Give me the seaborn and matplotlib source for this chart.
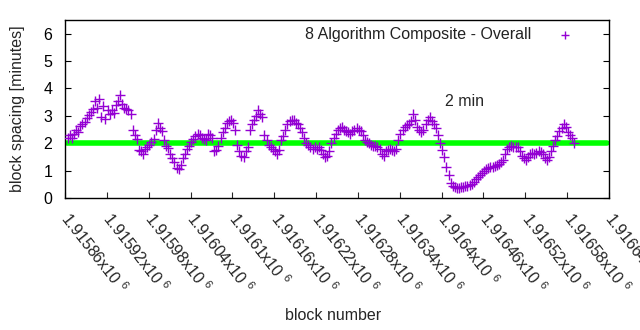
import numpy as np
import pandas as pd
import seaborn as sns
import matplotlib
matplotlib.use("Agg")
import matplotlib.pyplot as plt

# ---- data ----
block_start = 1915864
block_step = 3
spacing_minutes = [
    2.2, 2.3, 2.18, 2.35, 2.5, 2.42, 2.62, 2.7, 2.78, 2.92,
    3.02, 3.15, 3.25, 3.55, 3.3, 3.62, 2.95, 3.35, 2.9, 3.22,
    3.05, 3.2, 3.12, 3.4, 3.55, 3.75, 3.45, 3.3, 3.25, 3.2,
    3.05, 2.5, 2.3, 2.15, 1.75, 1.72, 1.62, 1.78, 1.85, 1.92,
    2.05, 2.15, 2.5, 2.75, 2.55, 2.45, 2.1, 1.9, 1.82, 1.6,
    1.45, 1.3, 1.1, 1.05, 1.2, 1.45, 1.6, 1.78, 1.9, 2.05,
    2.15, 2.25, 2.35, 2.3, 2.2, 2.15, 2.1, 2.35, 2.3, 2.2,
    1.7, 1.75, 1.9, 2.2, 2.4, 2.55, 2.75, 2.8, 2.85, 2.75,
    2.5, 1.95, 1.7, 1.55, 1.5, 1.7, 1.85, 2.5, 2.7, 2.85,
    3.0, 3.2, 3.05, 2.95, 2.3, 2.1, 1.95, 1.85, 1.8, 1.7,
    1.6, 1.75, 2.1, 2.25, 2.5, 2.7, 2.8, 2.85, 2.85, 2.75,
    2.7, 2.55, 2.4, 2.2, 2.0, 1.92, 1.85, 1.8, 1.85, 1.8,
    1.85, 1.75, 1.6, 1.5, 1.55, 1.7, 2.0, 2.2, 2.35, 2.5,
    2.55, 2.6, 2.5, 2.45, 2.4, 2.35, 2.45, 2.5, 2.55, 2.5,
    2.45, 2.3, 2.1, 2.05, 2.0, 1.95, 1.9, 1.9, 1.85, 1.8,
    1.6, 1.55, 1.7, 1.75, 1.8, 1.75, 1.7, 1.8, 2.1, 2.35,
    2.5, 2.6, 2.65, 2.7, 2.8, 3.05, 2.85, 2.6, 2.5, 2.4,
    2.5, 2.7, 2.85, 2.95, 2.8, 2.7, 2.55, 2.3, 2.0, 1.75,
    1.5, 1.15, 0.85, 0.55, 0.45, 0.4, 0.38, 0.37, 0.4, 0.4,
    0.42, 0.45, 0.48, 0.52, 0.6, 0.7, 0.78, 0.85, 0.92, 1.0,
    1.05, 1.1, 1.12, 1.15, 1.18, 1.2, 1.25, 1.3, 1.38, 1.6,
    1.8, 1.85, 1.9, 1.88, 1.85, 1.86, 1.7, 1.55, 1.45, 1.4,
    1.5, 1.6, 1.65, 1.62, 1.65, 1.7, 1.68, 1.6, 1.45, 1.4,
    1.5, 1.7, 1.9, 2.1, 2.25, 2.45, 2.55, 2.7, 2.6, 2.4,
    2.3, 2.2, 2.0,
]
blocks = block_start + block_step * np.arange(len(spacing_minutes))
tick_values = [1915860 + 60 * i for i in range(14)]
tick_labels = ["1.91586", "1.91592", "1.91598", "1.91604", "1.9161", "1.91616",
               "1.91622", "1.91628", "1.91634", "1.9164", "1.91646", "1.91652",
               "1.91658", "1.91664"]
target_minutes = 2
series_name = "8 Algorithm Composite - Overall"

df = pd.DataFrame({"block": blocks, "minutes": spacing_minutes})

sns.set_theme(style="white")
plt.rcParams["font.family"] = ["Liberation Sans", "DejaVu Sans"]
plt.rcParams["mathtext.fontset"] = "custom"
plt.rcParams["mathtext.rm"] = "Liberation Sans"
plt.rcParams["mathtext.it"] = "Liberation Sans"

fig = plt.figure(figsize=(6.4, 3.3), dpi=100)
ax = fig.add_axes([65 / 640, 1 - 198 / 330, 544 / 640, 178 / 330])

sns.scatterplot(data=df, x="block", y="minutes", marker="+", s=50,
                color="#9400D3", linewidth=1.0, ax=ax, label=series_name,
                zorder=3)
ax.axhline(target_minutes, xmin=0.004, xmax=0.996, color="#00FF00", lw=4, zorder=2)

ax.set_xlim(tick_values[0], tick_values[-1])
ax.set_ylim(0, 6.5)
ax.set_yticks(range(0, 7))
ax.set_xticks(tick_values)
ax.set_xticklabels([t + r"x10 $^{6}$" for t in tick_labels], rotation=-52,
                   ha="left", va="center", rotation_mode="anchor", fontsize=11.5)
ax.tick_params(axis="y", labelsize=11.5, direction="in", length=4, right=True,
               left=True, width=0.8, colors="black", pad=9)
ax.tick_params(axis="x", direction="in", length=4, bottom=True, width=0.8, pad=12)
for sp in ax.spines.values():
    sp.set_color("black")
    sp.set_linewidth(1.0)

ax.set_xlabel("block number", fontsize=11.5)
ax.xaxis.set_label_coords((333 - 65) / 544, (198 - 315) / 178)
ax.xaxis.label.set_va("center")
ax.set_ylabel("block spacing [minutes]", fontsize=11.5)
ax.yaxis.set_label_coords((18 - 65) / 544, 0.5)
ax.yaxis.label.set_va("center")

ax.text(1916405, 3.53, "2 min", fontsize=11.5, ha="left", va="center")

leg = ax.legend(loc="upper right", frameon=False, markerfirst=False,
                fontsize=11.5, handletextpad=1.1, borderaxespad=0.3,
                markerscale=0.9, bbox_to_anchor=(1 - 17 / 544, 1 + 4 / 178))
for t in leg.get_texts():
    t.set_color("#222222")

fig.savefig("out.png", dpi=100)
